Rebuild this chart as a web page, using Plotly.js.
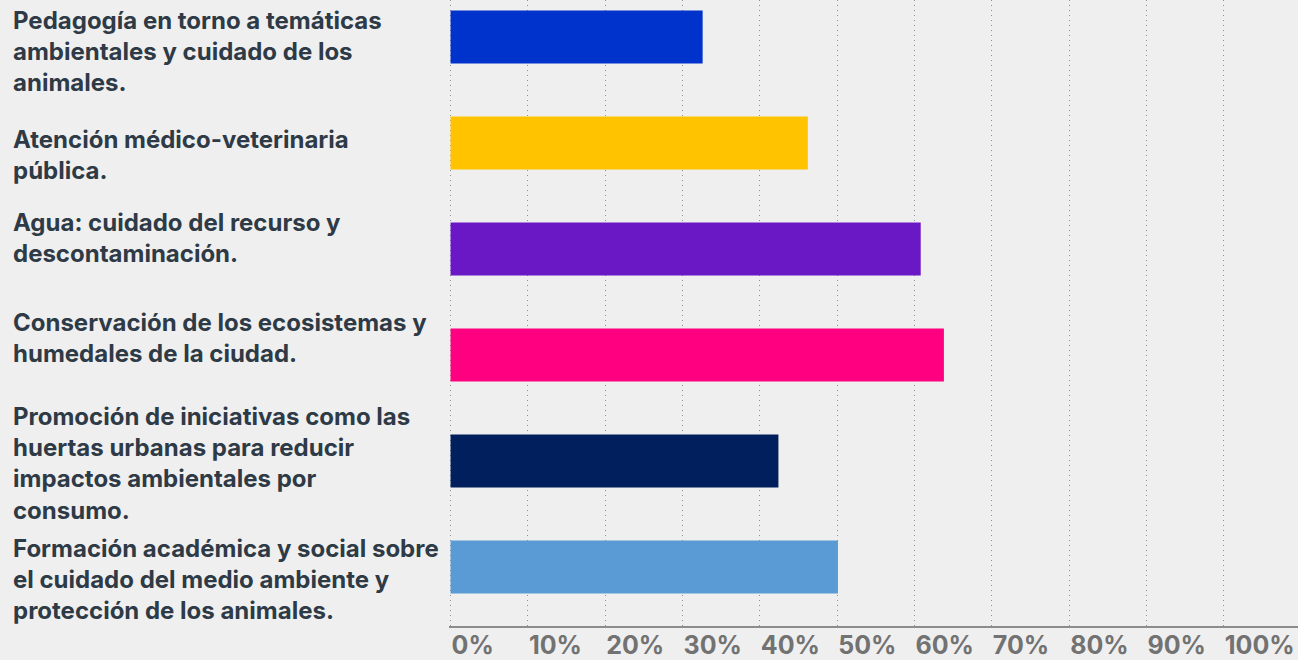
<!DOCTYPE html>
<html>
<head>
<meta charset="utf-8">
<script src="https://cdn.plot.ly/plotly-3.0.1.min.js"></script>
<style>
html,body{margin:0;padding:0;background:#efefef;}
#chart{width:1298px;height:660px;}
</style>
</head>
<body>
<div id="chart"></div>
<script>
const categories = [
  "Pedagogía en torno a temáticas<br>ambientales y cuidado de los<br>animales.",
  "Atención médico-veterinaria<br>pública.",
  "Agua: cuidado del recurso y<br>descontaminación.",
  "Conservación de los ecosistemas y<br>humedales de la ciudad.",
  "Promoción de iniciativas como las<br>huertas urbanas para reducir<br>impactos ambientales por<br>consumo.",
  "Formación académica y social sobre<br>el cuidado del medio ambiente y<br>protección de los animales."
];
const values = [32.6, 46.2, 60.8, 63.8, 42.4, 50.1];
const barColors = ["#0033CC", "#FFC300", "#6A17C6", "#FF0080", "#001F5C", "#5B9BD5"];
const tickValues = [0, 10, 20, 30, 40, 50, 60, 70, 80, 90, 100];
const tickLabels = ["0%", "10%", "20%", "30%", "40%", "50%", "60%", "70%", "80%", "90%", "100%"];

// small vertical nudges of the label blocks (px, positive = up)
const labelNudge = [-15, -12, 11, 17, -3, -13];

const trace = {
  type: 'bar',
  orientation: 'h',
  x: values,
  y: categories,
  marker: {color: barColors},
  hoverinfo: 'x+y'
};

const annotations = categories.map((c, i) => ({
  xref: 'paper', yref: 'y',
  x: 0, y: c,
  xanchor: 'left', yanchor: 'middle',
  xshift: 11 - 449,
  yshift: labelNudge[i],
  align: 'left',
  text: c,
  showarrow: false,
  font: {family: 'Inter, "Noto Sans", sans-serif', size: 24, color: '#2E3A46', weight: 700}
}));

const layout = {
  width: 1298, height: 660,
  margin: {l: 449, r: 0, t: 0, b: 34},
  paper_bgcolor: '#EFEFEF',
  plot_bgcolor: 'rgba(0,0,0,0)',
  bargap: 0.5,
  showlegend: false,
  xaxis: {
    range: [-0.2, 109.59],
    tickvals: tickValues,
    ticktext: tickLabels,
    ticklabelposition: 'outside right',
    ticklabelstandoff: -4,
    showgrid: true,
    gridcolor: '#8E8E8E',
    griddash: '1px,4px',
    gridwidth: 1,
    zeroline: false,
    showline: true,
    linecolor: '#8C8C8C',
    linewidth: 2,
    ticks: '',
    tickfont: {family: 'Inter, "Noto Sans", sans-serif', size: 25, color: '#727272', weight: 700},
    fixedrange: true
  },
  yaxis: {
    type: 'category',
    range: [5.557, -0.349],
    showticklabels: false,
    showgrid: false,
    zeroline: false,
    ticks: '',
    fixedrange: true
  },
  annotations: annotations
};

Plotly.newPlot('chart', [trace], layout, {displayModeBar: false, staticPlot: true});
</script>
</body>
</html>
